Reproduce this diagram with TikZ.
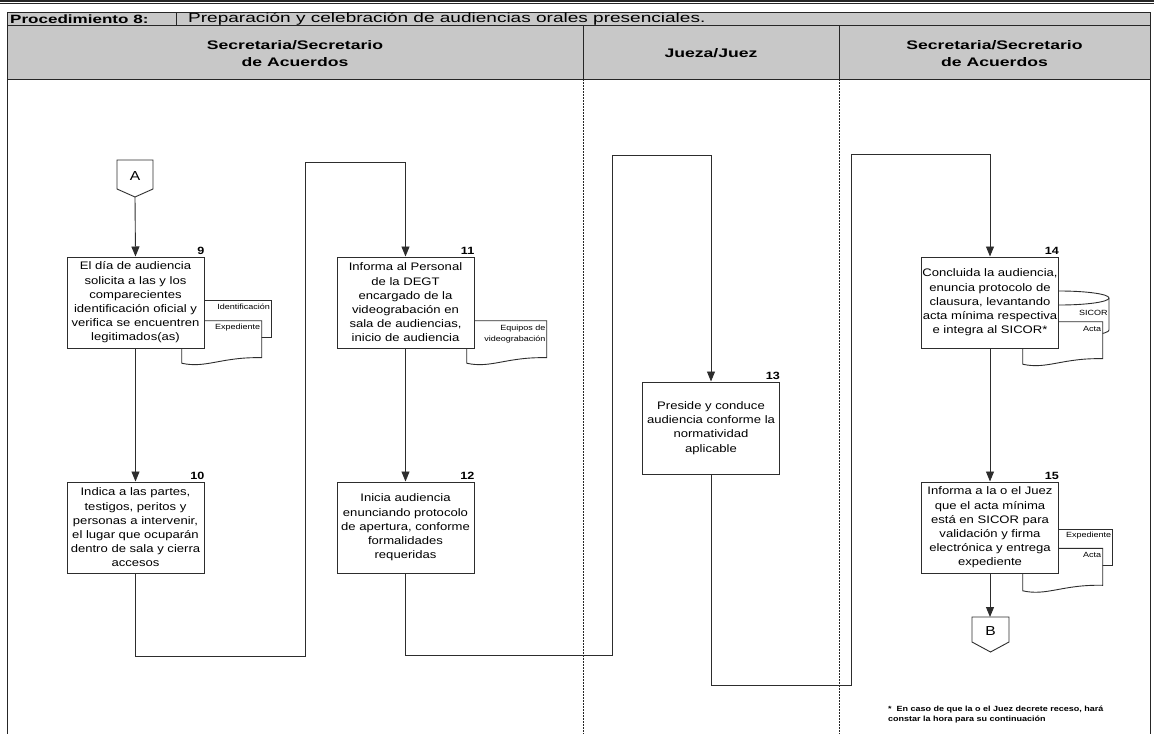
\documentclass[tikz,border=0pt]{standalone}
\usepackage{fontspec}
\setmainfont{Liberation Sans}
\newfontfamily\bodyfont{Liberation Sans}[FakeStretch=1.2]
\newfontfamily\headfont{Liberation Sans}[FakeStretch=1.42]
\usetikzlibrary{arrows.meta}
\definecolor{headgray}{RGB}{200,200,200}
\definecolor{inkgray}{RGB}{45,45,45}
\tikzset{
  frame/.style={draw=black!85, line width=0.9pt},
  lanesep/.style={draw=black!85, line width=0.7pt, dash pattern=on 2pt off 1pt},
  stepbox/.style={draw=inkgray, line width=1pt, fill=white, minimum width=137pt,
    minimum height=91pt, inner sep=0.5pt, text width=136pt, align=center,
    font=\bodyfont\fontsize{10.9}{14.2}\selectfont},
  stepnum/.style={anchor=south east, inner sep=0pt, font=\bodyfont\bfseries\fontsize{10.5}{11}\selectfont},
  docline/.style={draw=inkgray, line width=0.9pt, fill=white},
  doctext/.style={anchor=east, inner sep=0.5pt, align=right, font=\bodyfont\fontsize{7.5}{10.5}\selectfont},
  flow/.style={draw=inkgray, line width=0.9pt, -{Triangle[length=10pt,width=8pt]}},
  lanehead/.style={inner sep=0pt, align=center, font=\headfont\bfseries\fontsize{12.4}{17.5}\selectfont},
  pics/docsheet/.style={code={
    \draw[docline] (0,0) -- (80,0) -- (80,37) .. controls (40,36) and (24,48) .. (0,42.5) -- cycle;
  }},
}
\begin{document}
\begin{tikzpicture}[x=1pt,y=-1pt]
\useasboundingbox (0,0) rectangle (1154,734);

% double rule at the top of the page
\draw[line width=1.6pt, black!85] (0,0.8) -- (1154,0.8);
\draw[line width=1.1pt, black!85] (0,3.6) -- (1154,3.6);

% header table
\fill[headgray] (7,12) rectangle (1150,79);
\draw[frame] (7,12) rectangle (1150,79);
\draw[frame] (7,25.5) -- (1150,25.5);
\draw[frame] (176,12) -- (176,25.5);
\draw[frame] (583,25.5) -- (583,79);
\draw[frame] (839,25.5) -- (839,79);

\node[anchor=west, inner sep=0pt, font=\headfont\bfseries\fontsize{12}{14}\selectfont] (proc) at (10,19) {Procedimiento 8:};
\node[anchor=west, inner sep=0pt, font=\headfont\fontsize{13.4}{14}\selectfont] (ptitle) at (188,19) {Preparación y celebración de audiencias orales presenciales.};
\node[lanehead] (lane1) at (295,53.5) {Secretaria/Secretario\\de Acuerdos};
\node[lanehead] (lane2) at (711,53.5) {Jueza/Juez};
\node[lanehead] (lane3) at (994.5,53.5) {Secretaria/Secretario\\de Acuerdos};

% lane borders
\draw[frame] (7,79) -- (7,734);
\draw[frame] (1150,79) -- (1150,734);
\draw[lanesep] (583,79) -- (583,734);
\draw[lanesep] (839,79) -- (839,734);

% documents behind step 9
\draw[docline] (190,300.7) rectangle (271,337);
\node[doctext] (docid) at (270.5,307) {Identificación};
\pic at (181.7,320.7) {docsheet};
\node[doctext] (docexp9) at (260.8,327.7) {Expediente};

% document behind step 11
\pic at (466.7,320.7) {docsheet};
\node[doctext] (doceq) at (546,334) {Equipos de\\videograbación};

% database and document behind step 14
\draw[docline] (1010,298) -- (1010,330)
  arc[start angle=180, end angle=0, x radius=49.5, y radius=7]
  -- (1109,298)
  arc[start angle=0, end angle=-180, x radius=49.5, y radius=7] -- cycle;
\draw[docline, fill=none] (1010,298) arc[start angle=180, end angle=0, x radius=49.5, y radius=7];
\node[doctext] (docsicor) at (1108.3,313.3) {SICOR};
\pic at (1022.7,321.7) {docsheet};
\node[doctext] (docacta14) at (1101.8,329) {Acta};

% documents behind step 15
\draw[docline] (1040,529) rectangle (1112.3,565);
\node[doctext] (docexp15) at (1111.8,535.7) {Expediente};
\pic at (1022.7,548.3) {docsheet};
\node[doctext] (docacta15) at (1101.8,555) {Acta};

% off-page connector A
\draw[docline] (117,160) -- (153,160) -- (153,189) -- (135,197) -- (117,189) -- cycle;
\node[inner sep=0pt, font=\bodyfont\fontsize{13}{14}\selectfont] (A) at (135,176) {A};
\coordinate (Aout) at (135,197);

% off-page connector B
\draw[docline] (972,617) -- (1009,617) -- (1009,642) -- (990.5,652) -- (972,642) -- cycle;
\node[inner sep=0pt, font=\bodyfont\fontsize{13}{14}\selectfont] (B) at (990.5,631) {B};
\coordinate (Bin) at (990,617);

% activity steps
\node[stepbox] (n9) at (135.5,302.5) {El día de audiencia\\solicita a las y los\\comparecientes\\identificación oficial y\\verifica se encuentren\\legitimados(as)};
\node[stepbox] (n10) at (135.5,527.5) {Indica a las partes,\\testigos, peritos y\\personas a intervenir,\\el lugar que ocuparán\\dentro de sala y cierra\\accesos};
\node[stepbox] (n11) at (405.5,302.5) {Informa al Personal\\de la DEGT\\encargado de la\\videograbación en\\sala de audiencias,\\inicio de audiencia};
\node[stepbox] (n12) at (405.5,527.5) {Inicia audiencia\\enunciando protocolo\\de apertura, conforme\\formalidades\\requeridas};
\node[stepbox, minimum height=92pt] (n13) at (711,428) {Preside y conduce\\audiencia conforme la\\normatividad\\aplicable};
\node[stepbox] (n14) at (990,302.5) {Concluida la audiencia,\\enuncia protocolo de\\clausura, levantando\\acta mínima respectiva\\e integra al SICOR*};
\node[stepbox] (n15) at (990,527.5) {Informa a la o el Juez\\que el acta mínima\\está en SICOR para\\validación y firma\\electrónica y entrega\\expediente};

% step numbers
\node[stepnum] (k9) at ([yshift=2pt]n9.north east) {9};
\node[stepnum] (k10) at ([yshift=2pt]n10.north east) {10};
\node[stepnum] (k11) at ([yshift=2pt]n11.north east) {11};
\node[stepnum] (k12) at ([yshift=2pt]n12.north east) {12};
\node[stepnum] (k13) at ([yshift=2pt]n13.north east) {13};
\node[stepnum] (k14) at ([yshift=2pt]n14.north east) {14};
\node[stepnum] (k15) at ([yshift=2pt]n15.north east) {15};

% flow
\draw[flow] (Aout) -- (n9.north);
\draw[flow] (n9.south) -- (n10.north);
\draw[flow] (n10.south) |- (305,656) -- (305,162) -| (n11.north);
\draw[flow] (n11.south) -- (n12.north);
\draw[flow] (n12.south) |- (612,655) -- (612,155.5) -| (n13.north);
\draw[flow] (n13.south) |- (851,685) -- (851,154.5) -| (n14.north);
\draw[flow] (n14.south) -- (n15.north);
\draw[flow] (n15.south) -- (Bin);

% footnote
\node[anchor=north west, inner sep=0pt, align=left, font=\bodyfont\bfseries\fontsize{7.5}{10}\selectfont] (note) at (888,705.5) {*\ \ En caso de que la o el Juez decrete receso, hará\\constar la hora para su continuación};
\end{tikzpicture}
\end{document}
